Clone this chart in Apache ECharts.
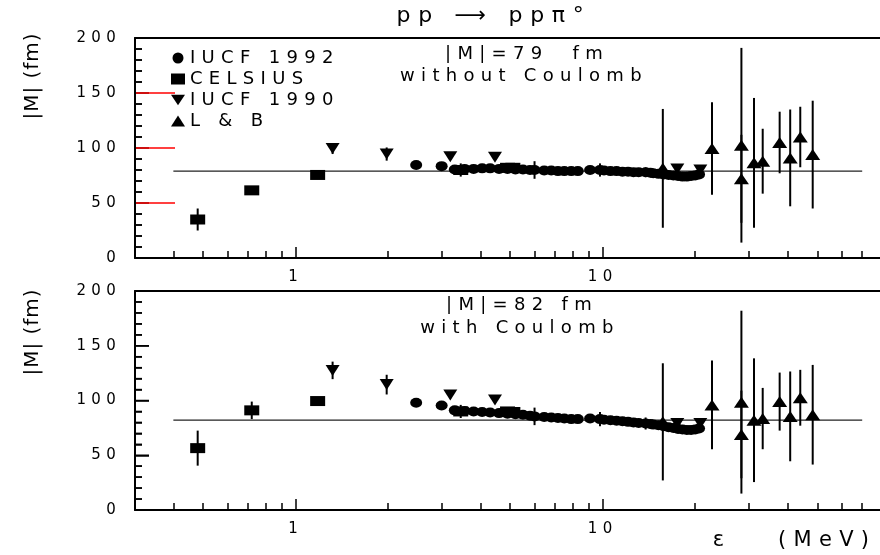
<!DOCTYPE html>
<html>
<head>
<meta charset="utf-8">
<script src="https://cdn.jsdelivr.net/npm/echarts@6/dist/echarts.min.js"></script>
<style>
  html, body { margin: 0; padding: 0; background: #fff; }
  #chart { width: 880px; height: 555px; }
</style>
</head>
<body>
<div id="chart"></div>
<script>
// |M| (fm) vs excess energy (MeV)
const fitTop = 79;
const fitBottom = 82;
const fitRange = [0.4, 70];

// IUCF 1992 (circles)
const iucf92E = [2.47, 2.99,
  3.3, 3.55, 3.8, 4.05, 4.3, 4.6, 4.9, 5.2, 5.5, 5.8, 6.0, 6.45, 6.8, 7.15, 7.5, 7.9, 8.3,
  9.1, 9.8, 10.1, 10.6, 11.1, 11.6, 12.1, 12.6, 13.1, 13.8, 14.3, 14.6, 15.2, 15.8, 16.4, 17.0, 17.6, 18.2, 18.8, 19.4, 20.0, 20.6];
const iucf92Top = [84.5, 83.5,
  80.5, 81, 81, 81.5, 81.5, 81, 81, 80.5, 80.5, 80, 80, 79.5, 79.5, 79, 79, 79, 79,
  80, 80, 79.5, 79, 79, 78.5, 78.5, 78, 78, 78, 77.5, 77, 76.5, 76, 75.5, 75, 74.5, 74, 74, 74.5, 75, 76];
const iucf92TopErr = [0, 0,
  0, 0, 0, 0, 0, 0, 0, 0, 0, 0, 8, 0, 0, 0, 0, 0, 0,
  0, 6, 0, 0, 0, 0, 0, 0, 0, 4.5, 0, 0, 0, 0, 0, 0, 0, 0, 0, 0, 0, 0];
const iucf92Bottom = [98, 95.5,
  91, 90.5, 90, 89.5, 89, 88.5, 88, 87.5, 87, 86, 85.5, 85, 84.5, 84, 83.5, 83, 83,
  83.5, 83, 82.5, 82, 81.5, 81, 80.5, 80, 79.5, 79, 78.5, 78, 77.5, 76.5, 75.5, 75, 74, 73.5, 73, 73, 73.5, 74.5];
const iucf92BottomErr = [0, 0,
  0, 0, 0, 0, 0, 0, 0, 0, 0, 0, 8, 0, 0, 0, 0, 0, 0,
  0, 6.5, 0, 0, 0, 0, 0, 0, 0, 5.5, 0, 0, 0, 0, 0, 0, 0, 0, 0, 0, 0, 0];

// CELSIUS (squares)
const celsiusE = [0.48, 0.72, 1.18, 3.45, 4.9, 5.1];
const celsiusTop = [35, 61.5, 75.5, 80, 82, 82];
const celsiusTopErr = [10, 3, 2, 6, 2, 2];
const celsiusBottom = [56.5, 91, 99.5, 90, 90, 89.5];
const celsiusBottomErr = [16, 8, 2, 6, 2, 2];

// IUCF 1990 (down triangles)
const iucf90E = [1.32, 1.98, 3.19, 4.46, 17.5, 20.8];
const iucf90Top = [99.5, 94.5, 92, 91.5, 81, 80];
const iucf90TopErr = [5, 6, 3, 3, 0, 0];
const iucf90Bottom = [127.5, 114.5, 105, 100.5, 79, 79];
const iucf90BottomErr = [8, 9, 3, 3, 0, 0];

// L & B (up triangles)
const lbE = [15.7, 22.7, 28.3, 28.3, 31.1, 33.2, 37.7, 40.8, 44.0, 48.3];
const lbTop = [81.5, 99.5, 102.5, 72, 86.5, 88, 105, 91, 110, 94];
const lbTopErr = [54, 42, 88.5, 40, 59, 29.5, 28, 44, 27.5, 49];
const lbBottom = [80.5, 96, 98.5, 69, 82, 83.5, 99, 85.5, 102.5, 87];
const lbBottomErr = [53.5, 40.5, 83.5, 40, 56.5, 28, 26.5, 41, 25.5, 45.5];

// axis ticks
const xMajorTicks = [1, 10];
const xMinorTicks = [0.4, 0.5, 0.6, 0.7, 0.8, 0.9, 2, 3, 4, 5, 6, 7, 8, 9, 20, 30, 40, 50, 60, 70];
const yMajorTicks = [50, 100, 150];
const yMinorTicks = [10, 20, 30, 40, 60, 70, 80, 90, 110, 120, 130, 140, 160, 170, 180, 190];
const X_MIN = 0.3, X_MAX = 80;

const SYM_CIRCLE = 'path://M-1,0A1,1,0,1,0,1,0A1,1,0,1,0,-1,0Z';
const SYM_DOWN = 'path://M0,0L2,0L1,1.5Z';
const FONT = 'DejaVu Sans';

// the original plot uses a wide, letter-spaced font: widen canvas text the same way
const baseFillText = CanvasRenderingContext2D.prototype.fillText;
CanvasRenderingContext2D.prototype.fillText = function (text, x, y, maxWidth) {
  const m = /(\d+(?:\.\d+)?)px/.exec(this.font);
  const size = m ? parseFloat(m[1]) : 12;
  const rotated = Math.abs(this.getTransform().b) > 0.5;
  this.letterSpacing = (size * (rotated ? 0.05 : 0.35)).toFixed(1) + 'px';
  if (maxWidth === undefined) baseFillText.call(this, text, x, y);
  else baseFillText.call(this, text, x, y, maxWidth);
  this.letterSpacing = '0px';
};

const chart = echarts.init(document.getElementById('chart'), null, { renderer: 'canvas' });

const grids = [
  { left: 135, top: 38, width: 745, height: 220 },
  { left: 135, top: 291, width: 745, height: 219 }
];

const groups = [
  { name: 'IUCF 1992', symbol: SYM_CIRCLE, size: [12, 10], x: iucf92E,
    y: [iucf92Top, iucf92Bottom], err: [iucf92TopErr, iucf92BottomErr] },
  { name: 'CELSIUS', symbol: 'rect', size: [15, 10], x: celsiusE,
    y: [celsiusTop, celsiusBottom], err: [celsiusTopErr, celsiusBottomErr] },
  { name: 'IUCF 1990', symbol: SYM_DOWN, size: [14, 11], x: iucf90E,
    y: [iucf90Top, iucf90Bottom], err: [iucf90TopErr, iucf90BottomErr] },
  { name: 'L & B', symbol: 'triangle', size: [15, 11], x: lbE,
    y: [lbTop, lbBottom], err: [lbTopErr, lbBottomErr] }
];

// kind: 'major' (bottom line, long ticks, labels), 'minor' (short ticks), 'frame' (top border)
function xAxis(gridIndex, kind) {
  return {
    type: 'log', logBase: 10, gridIndex: gridIndex,
    position: kind === 'frame' ? 'top' : 'bottom',
    min: X_MIN, max: X_MAX,
    axisLine: { show: kind !== 'minor', onZero: false, lineStyle: { color: '#000', width: 2 } },
    axisTick: {
      show: kind !== 'frame', inside: true, length: kind === 'major' ? 11 : 7,
      customValues: kind === 'major' ? xMajorTicks : xMinorTicks,
      lineStyle: { color: '#000', width: 1.5 }
    },
    axisLabel: {
      show: kind === 'major', customValues: xMajorTicks, margin: 12,
      color: '#000', fontSize: 15, fontFamily: FONT,
      formatter: v => String(v)
    },
    splitLine: { show: false }
  };
}

function yAxis(gridIndex) {
  return {
    type: 'value', gridIndex: gridIndex, position: 'left',
    min: 0, max: 200, interval: 50,
    axisLine: { show: true, onZero: false, lineStyle: { color: '#000', width: 2 } },
    axisTick: { show: true, inside: true, length: 14, lineStyle: { color: '#000', width: 1.5 } },
    minorTick: { show: true, splitNumber: 5, length: 7, lineStyle: { color: '#000', width: 1.5 } },
    axisLabel: { color: '#000', fontSize: 15, fontFamily: FONT, margin: 14 },
    splitLine: { show: false }
  };
}

// inward ticks on the left axis, placed through the axis scale
function yTicks(values, len, p, color) {
  return {
    type: 'custom', xAxisIndex: p, yAxisIndex: p, silent: true, z: 4, clip: false,
    data: values.map(v => [1, v]),
    renderItem: function (params, api) {
      const a = api.coord([X_MIN, api.value(1)]);
      return {
        type: 'line',
        shape: { x1: a[0] + 1, y1: a[1], x2: a[0] + len, y2: a[1] },
        style: { stroke: color, lineWidth: 1.5 }
      };
    }
  };
}

function errorBars(xs, ys, errs, p) {
  return {
    type: 'custom', xAxisIndex: p, yAxisIndex: p, silent: true, z: 2,
    data: xs.map((x, i) => [x, ys[i], errs[i]]),
    renderItem: function (params, api) {
      const x = api.value(0), y = api.value(1), e = api.value(2);
      if (!e) return null;
      const a = api.coord([x, y - e]);
      const b = api.coord([x, y + e]);
      return {
        type: 'line',
        shape: { x1: a[0], y1: a[1], x2: b[0], y2: b[1] },
        style: { stroke: '#000', lineWidth: 2 }
      };
    }
  };
}

const series = [];
[0, 1].forEach(p => {
  // top panel: long red test ticks to check whether the left strip gets drawn
  series.push(yTicks(yMajorTicks, p === 0 ? 40 : 14, p, p === 0 ? '#f00' : '#000'));
  series.push(yTicks(yMinorTicks, 7, p, '#000'));
  series.push({
    type: 'line', xAxisIndex: p, yAxisIndex: p, silent: true,
    symbol: 'none', z: 1,
    data: fitRange.map(x => [x, p === 0 ? fitTop : fitBottom]),
    lineStyle: { color: '#222', width: 1.2 }
  });
  groups.forEach(g => {
    series.push(errorBars(g.x, g.y[p], g.err[p], p));
    series.push({
      name: g.name, type: 'scatter', xAxisIndex: p, yAxisIndex: p, z: 3,
      symbol: g.symbol, symbolSize: g.size,
      data: g.x.map((x, i) => [x, g.y[p][i]]),
      itemStyle: { color: '#000', opacity: 1 }
    });
  });
});

function label(text, x, y, size, align, rot) {
  return {
    type: 'text', x: x, y: y, rotation: rot || 0,
    style: {
      text: text, fill: '#000', fontSize: size, fontFamily: FONT,
      textAlign: align || 'center', textVerticalAlign: 'middle'
    }
  };
}

chart.setOption({
  animation: false,
  backgroundColor: '#fff',
  textStyle: { fontFamily: FONT },
  grid: grids,
  xAxis: [
    xAxis(0, 'major'), xAxis(1, 'major'),
    xAxis(0, 'minor'), xAxis(1, 'minor'),
    xAxis(0, 'frame'), xAxis(1, 'frame')
  ],
  yAxis: [yAxis(0), yAxis(1)],
  legend: {
    data: groups.map(g => g.name),
    orient: 'vertical', left: 166, top: 44,
    itemWidth: 14, itemHeight: 11, itemGap: 3,
    selectedMode: false,
    textStyle: { color: '#000', fontSize: 18, fontFamily: FONT }
  },
  graphic: [
    label('pp ⟶ ppπ°', 494, 16, 22),
    label('|M|=79  fm', 527, 54, 18),
    label('without Coulomb', 524, 76, 18),
    label('|M|=82 fm', 522, 305, 18),
    label('with Coulomb', 520, 328, 18),
    label('|M| (fm)', 33, 76, 20, 'center', Math.PI / 2),
    label('|M| (fm)', 33, 332, 20, 'center', Math.PI / 2),
    label('ε', 722, 541, 21),
    label('(MeV)', 778, 541, 21, 'left')
  ],
  series: series
});
</script>
</body>
</html>
